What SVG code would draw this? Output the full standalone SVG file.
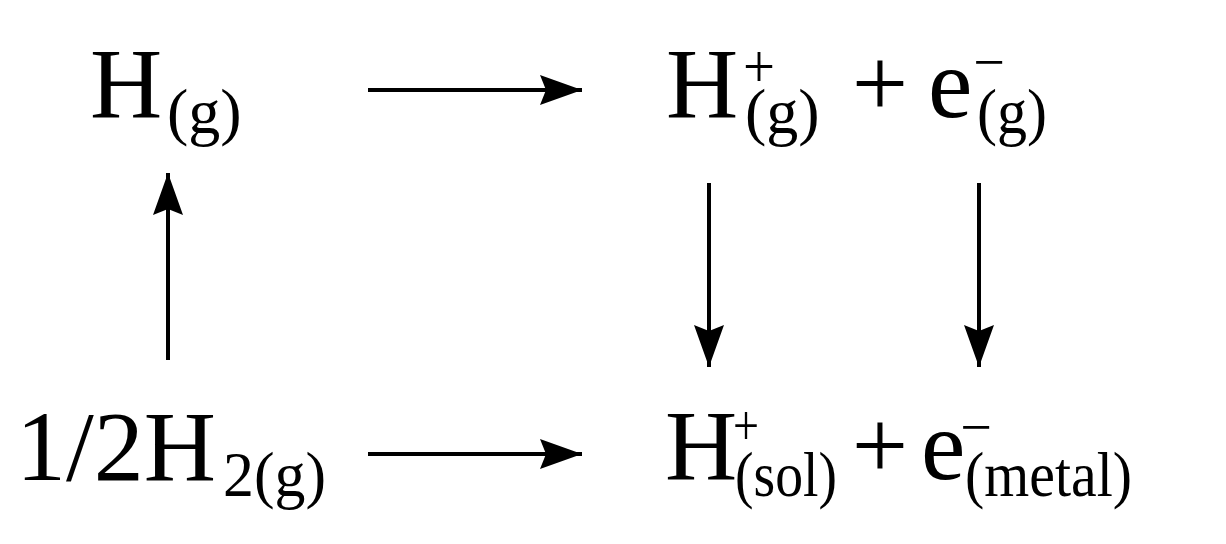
<svg xmlns="http://www.w3.org/2000/svg" width="1226" height="544" viewBox="0 0 1226 544">
<style>
text{font-family:"Liberation Serif","Times New Roman",serif;fill:#000}
.m{font-size:100px}
.s{font-size:64px}
.p{font-size:56px}
.ln{stroke:#000;stroke-width:4;fill:none}
</style>
<defs>
<marker id="ah" markerUnits="userSpaceOnUse" markerWidth="44" markerHeight="32" refX="42" refY="15" orient="auto" viewBox="0 0 44 30">
<path d="M42,15 L0,0 L6,15 L0,30 Z" fill="#000"/>
</marker>
</defs>
<rect width="1226" height="544" fill="#fff"/>
<g id="node-Hg">
<text class="m" x="90" y="117">H</text>
<text class="s" x="167" y="133">(g)</text>
</g>
<g id="node-Hplus-e-gas">
<text class="m" x="666" y="117">H</text>
<text class="p" x="743" y="87" textLength="32" lengthAdjust="spacingAndGlyphs" style="font-size:62px">+</text>
<text class="s" x="745" y="133">(g)</text>
<text class="m" x="880" y="117" text-anchor="middle">+</text>
<text class="m" x="928" y="117">e</text>
<text class="p" x="989" y="81" text-anchor="middle">−</text>
<text class="s" x="977" y="133" textLength="70" lengthAdjust="spacingAndGlyphs">(g)</text>
</g>
<g id="node-halfH2">
<text class="m" x="16" y="480">1/2H</text>
<text class="s" x="223" y="496" textLength="103" lengthAdjust="spacingAndGlyphs">2(g)</text>
</g>
<g id="node-Hsol-emetal">
<text class="m" x="665" y="479">H</text>
<text class="p" x="733" y="445" textLength="26" lengthAdjust="spacingAndGlyphs">+</text>
<text class="s" x="735" y="496" textLength="102" lengthAdjust="spacingAndGlyphs">(sol)</text>
<text class="m" x="880" y="479" text-anchor="middle">+</text>
<text class="m" x="921" y="479">e</text>
<text class="p" x="976" y="446" text-anchor="middle">−</text>
<text class="s" x="965" y="496" textLength="167" lengthAdjust="spacingAndGlyphs">(metal)</text>
</g>
<g id="connectors">
<line class="ln" x1="368" y1="90" x2="582" y2="90" marker-end="url(#ah)"/>
<line class="ln" x1="368" y1="454" x2="582" y2="454" marker-end="url(#ah)"/>
<line class="ln" x1="168" y1="360" x2="168" y2="173" marker-end="url(#ah)"/>
<line class="ln" x1="709" y1="183" x2="709" y2="367" marker-end="url(#ah)"/>
<line class="ln" x1="979" y1="183" x2="979" y2="367" marker-end="url(#ah)"/>
</g>
</svg>
